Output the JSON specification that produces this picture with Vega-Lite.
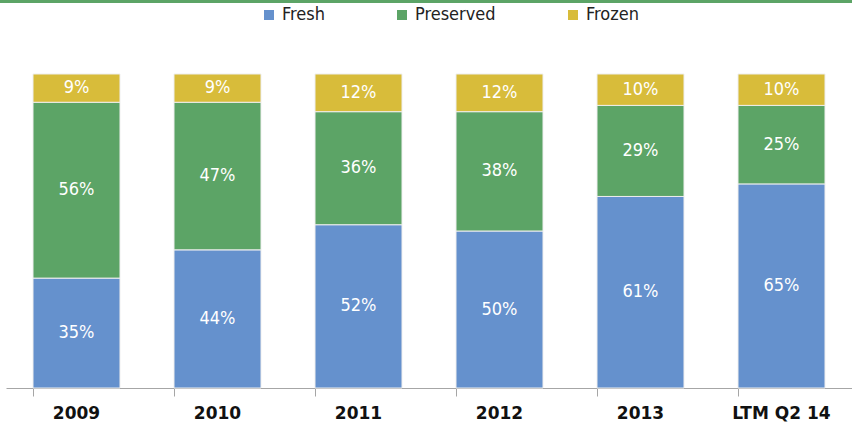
{
  "$schema": "https://vega.github.io/schema/vega-lite/v6.json",
  "width": 846,
  "height": 314,
  "autosize": {"type": "none"},
  "padding": {"left": 6, "top": 74, "right": 0, "bottom": 40},
  "background": "white",
  "config": {"view": {"stroke": null}, "font": "DejaVu Sans"},
  "data": {"values": [
    {"period": "2009", "type": "Fresh", "ord": 0, "share": 35},
    {"period": "2009", "type": "Preserved", "ord": 1, "share": 56},
    {"period": "2009", "type": "Frozen", "ord": 2, "share": 9},
    {"period": "2010", "type": "Fresh", "ord": 0, "share": 44},
    {"period": "2010", "type": "Preserved", "ord": 1, "share": 47},
    {"period": "2010", "type": "Frozen", "ord": 2, "share": 9},
    {"period": "2011", "type": "Fresh", "ord": 0, "share": 52},
    {"period": "2011", "type": "Preserved", "ord": 1, "share": 36},
    {"period": "2011", "type": "Frozen", "ord": 2, "share": 12},
    {"period": "2012", "type": "Fresh", "ord": 0, "share": 50},
    {"period": "2012", "type": "Preserved", "ord": 1, "share": 38},
    {"period": "2012", "type": "Frozen", "ord": 2, "share": 12},
    {"period": "2013", "type": "Fresh", "ord": 0, "share": 61},
    {"period": "2013", "type": "Preserved", "ord": 1, "share": 29},
    {"period": "2013", "type": "Frozen", "ord": 2, "share": 10},
    {"period": "LTM Q2 14", "type": "Fresh", "ord": 0, "share": 65},
    {"period": "LTM Q2 14", "type": "Preserved", "ord": 1, "share": 25},
    {"period": "LTM Q2 14", "type": "Frozen", "ord": 2, "share": 10}
  ]},
  "transform": [
    {"stack": "share", "groupby": ["period"], "sort": [{"field": "ord", "order": "ascending"}], "as": ["s0", "s1"], "offset": "normalize"},
    {"calculate": "(datum.s0 + datum.s1) / 2", "as": "smid"},
    {"calculate": "datum.share + '%'", "as": "lbl"}
  ],
  "layer": [
    {
      "mark": {"type": "bar", "stroke": "#EEEEEE", "strokeWidth": 1},
      "encoding": {
        "x": {"field": "period", "type": "nominal", "sort": null,
          "scale": {"paddingInner": 0.383, "paddingOuter": 0.1915},
          "axis": {"title": null, "labelAngle": 0, "labelFontSize": 17, "labelFontWeight": "bold", "labelColor": "#111111",
            "labelFont": "DejaVu Sans", "labelPadding": 9, "bandPosition": 0, "tickSize": 8, "tickColor": "#A6A6A6",
            "domainColor": "#A6A6A6", "domainWidth": 1, "grid": false}},
        "y": {"field": "s0", "type": "quantitative", "scale": {"domain": [0, 1], "nice": false}, "axis": null},
        "y2": {"field": "s1"},
        "color": {"field": "type", "type": "nominal",
          "scale": {"domain": ["Fresh", "Preserved", "Frozen"], "range": ["#6591CD", "#5CA466", "#D8BC3A"]},
          "legend": {"title": null, "orient": "none", "direction": "horizontal", "legendX": 254, "legendY": -68,
            "symbolType": "square", "symbolSize": 100, "symbolStrokeWidth": 0, "labelFontSize": 18, "labelFont": "DejaVu Sans Condensed",
            "labelColor": "#222222", "labelOffset": 4, "columnPadding": 68}}
      }
    },
    {
      "mark": {"type": "text", "color": "white", "fontSize": 18, "font": "DejaVu Sans Condensed", "baseline": "middle"},
      "encoding": {
        "x": {"field": "period", "type": "nominal", "sort": null},
        "y": {"field": "smid", "type": "quantitative"},
        "text": {"field": "lbl"}
      }
    },
    {
      "mark": {"type": "rule", "color": "#5CA466", "strokeWidth": 3},
      "encoding": {
        "y": {"datum": 1.231},
        "x": {"value": -6},
        "x2": {"value": 846}
      }
    }
  ]
}
